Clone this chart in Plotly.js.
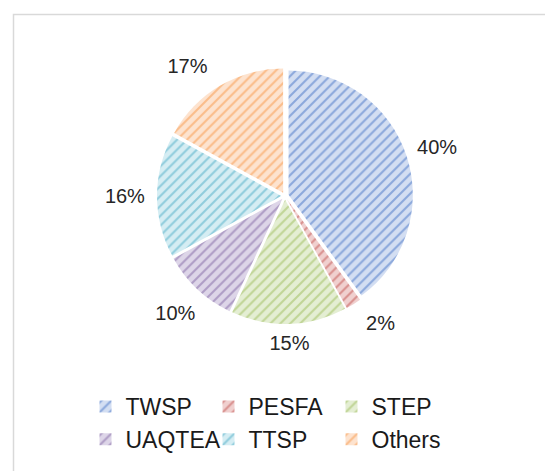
<!DOCTYPE html>
<html>
<head>
<meta charset="utf-8">
<script src="https://cdn.plot.ly/plotly-3.0.1.min.js"></script>
<style>html,body{margin:0;padding:0;background:#fff}#chart{width:545px;height:471px}</style>
</head>
<body>
<div id="chart"></div>
<script>
var categories = ["TWSP", "PESFA", "STEP", "UAQTEA", "TTSP", "Others"];
var shares = [40, 2, 15, 10, 16, 17];
var lineColors = ["#4472C4", "#C0504D", "#9BBB59", "#8064A2", "#4BACC6", "#F79646"];
var fillColors = ["#D3DEF2", "#F0D0CF", "#E4EED3", "#DDD5E8", "#D5EDF3", "#FDE3CF"];

var W = 545, H = 471, ML = 50, MR = 55, MB = 86;
var PW = W - ML - MR, PH = H - MB;
var cx = 285, cy = 196;
function px2x(p) { return (p - ML) / PW; }
function px2y(p) { return 1 - p / PH; }
function dom(r) {
  return {x: [px2x(cx - r), px2x(cx + r)], y: [px2y(cy + r), px2y(cy - r)]};
}
var clear = categories.map(function () { return "rgba(0,0,0,0)"; });
var labelFont = {family: "Liberation Sans, Arial, sans-serif", size: 20, color: "#262626"};

// percentage labels, drawn on transparent rings around the visible pie
function labelTrace(show, mode, rOut, rIn) {
  var t = {
    type: "pie",
    labels: categories,
    values: shares,
    sort: false,
    direction: "clockwise",
    rotation: 0,
    textinfo: "percent",
    texttemplate: "%{percent:.0%}",
    textposition: show.map(function (s) { return s ? mode : "none"; }),
    insidetextorientation: "horizontal",
    insidetextfont: labelFont,
    outsidetextfont: labelFont,
    hoverinfo: "skip",
    showlegend: false,
    marker: {colors: clear, line: {width: 0}},
    domain: dom(rOut)
  };
  if (rIn) t.hole = rIn / rOut;
  return t;
}

var pieTrace = {
  type: "pie",
  labels: categories,
  values: shares,
  sort: false,
  direction: "clockwise",
  rotation: 0,
  pull: 0.03,
  textinfo: "none",
  hoverinfo: "label+percent",
  marker: {
    colors: fillColors,
    line: {color: "#ffffff", width: 0},
    pattern: {shape: "/", fgcolor: lineColors, bgcolor: fillColors, size: 7, solidity: 0.3, fillmode: "overlay"}
  },
  domain: dom(128)
};

var layout = {
  width: W, height: H,
  margin: {l: ML, r: MR, t: 0, b: MB},
  paper_bgcolor: "#ffffff",
  plot_bgcolor: "rgba(0,0,0,0)",
  font: {family: "Liberation Sans, Arial, sans-serif", color: "#262626"},
  showlegend: true,
  legend: {
    orientation: "h",
    x: 0.5, xanchor: "center",
    y: 0, yanchor: "top",
    font: {size: 23, color: "#1a1a1a"},
    entrywidth: 78, entrywidthmode: "pixels",
    traceorder: "normal"
  },
  shapes: [{
    type: "rect", xref: "paper", yref: "paper",
    x0: px2x(13.5), x1: 1.5, y0: -0.5, y1: px2y(14.5),
    line: {color: "#D9D9D9", width: 1.5}, layer: "below"
  }],
  annotations: [{
    text: "<b>ps,</b>", xref: "paper", yref: "paper",
    x: px2x(154), xanchor: "left", y: px2y(0), yanchor: "bottom", yshift: -1,
    showarrow: false, font: {family: "Liberation Serif, Times New Roman, serif", size: 20, color: "#000"}
  }]
};

var traces = [
  pieTrace,
  labelTrace([true, false, false, true, true, false], "inside", 185, 135),
  labelTrace([false, false, true, false, false, false], "inside", 172, 122),
  labelTrace([false, true, false, false, false, true], "outside", 141)
];
Plotly.newPlot("chart", traces, layout, {displayModeBar: false, staticPlot: true});
</script>
</body>
</html>
